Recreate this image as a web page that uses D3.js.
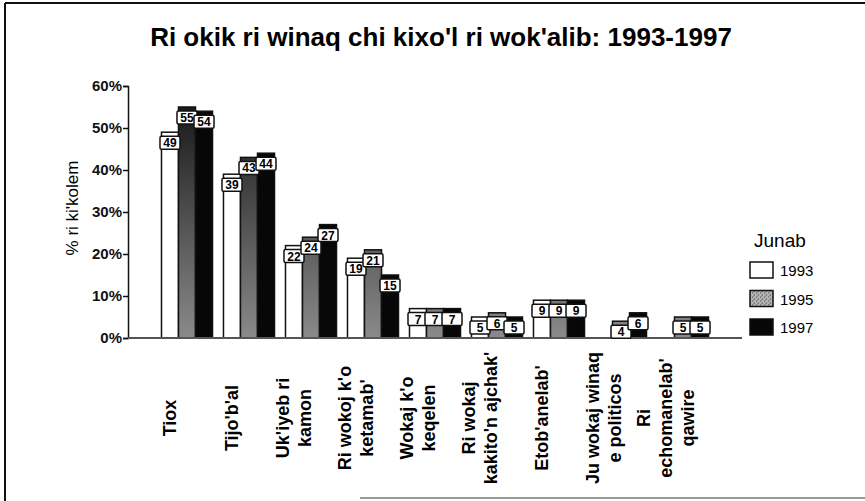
<!DOCTYPE html>
<html>
<head>
<meta charset="utf-8">
<script src="https://cdn.jsdelivr.net/npm/d3@7"></script>
<style>
  body { margin: 0; background: #fff; }
  svg { display: block; font-family: "Liberation Sans", Arial, sans-serif; }
</style>
</head>
<body>
<script>
// ---- data ----
const categories = [
  "Tiox", "Tijo'b'al", "Uk'iyeb ri|kamon", "Ri wokoj k'o|ketamab'",
  "Wokaj k'o|keqelen", "Ri wokaj|kakito'n ajchak'", "Etob'anelab'",
  "Ju wokaj winaq|e politicos", "Ri|echomanelab'|qawire"
];
const years = ["1993", "1995", "1997"];
const v1993 = [49, 39, 22, 19, 7, 5, 9, null, null];
const v1995 = [55, 43, 24, 21, 7, 6, 9, 4, 5];
const v1997 = [54, 44, 27, 15, 7, 5, 9, 6, 5];
const yTicks = [0, 10, 20, 30, 40, 50, 60];

const W = 865, H = 501;
const svg = d3.select("body").append("svg")
  .attr("width", W)
  .attr("height", H);

const defs = svg.append("defs");
// 1995 bars look dark at top and speckled grey near the axis
const grad = defs.append("linearGradient")
  .attr("id", "g1995")
  .attr("gradientUnits", "userSpaceOnUse")
  .attr("x1", 0).attr("y1", 100).attr("x2", 0).attr("y2", 338);
grad.append("stop").attr("offset", 0).attr("stop-color", "#161616");
grad.append("stop").attr("offset", 1).attr("stop-color", "#8a8a8a");

const pat = defs.append("pattern")
  .attr("id", "stip")
  .attr("width", 4).attr("height", 4)
  .attr("patternUnits", "userSpaceOnUse");
pat.append("rect").attr("width", 4).attr("height", 4).attr("fill", "#b4b4b4");
pat.append("rect").attr("x", 0).attr("y", 0).attr("width", 1).attr("height", 1).attr("fill", "#444");
pat.append("rect").attr("x", 2).attr("y", 2).attr("width", 1).attr("height", 1).attr("fill", "#555");
pat.append("rect").attr("x", 3).attr("y", 1).attr("width", 1).attr("height", 1).attr("fill", "#777");

const fills = { "1993": "#fff", "1995": "url(#g1995)", "1997": "#070707" };

// frame of the scanned page
svg.append("line").attr("x1", 5).attr("y1", 3).attr("x2", W).attr("y2", 3)
  .attr("stroke", "#111").attr("stroke-width", 2);
svg.append("line").attr("x1", 5).attr("y1", 3).attr("x2", 5).attr("y2", H)
  .attr("stroke", "#111").attr("stroke-width", 2);
svg.append("line").attr("x1", 360).attr("y1", 498).attr("x2", W).attr("y2", 498)
  .attr("stroke", "#999").attr("stroke-width", 2);

// title
svg.append("text")
  .attr("x", 441).attr("y", 46)
  .attr("text-anchor", "middle")
  .attr("font-size", 26)
  .attr("font-weight", "bold")
  .text("Ri okik ri winaq chi kixo'l ri wok'alib: 1993-1997");

// ---- scales ----
const x0 = d3.scaleBand()
  .domain(categories)
  .range([128, 742])
  .paddingInner(0.177)
  .paddingOuter(0.54);

const x1 = d3.scaleBand()
  .domain(years)
  .range([0, x0.bandwidth()]);

const y = d3.scaleLinear()
  .domain([0, 60])
  .range([338, 86]);

// y axis
const yAxis = svg.append("g")
  .attr("transform", "translate(128,0)")
  .call(d3.axisLeft(y).tickValues(yTicks).tickSize(5).tickFormat(d => d + "%"));
yAxis.select(".domain").attr("stroke", "#111").attr("stroke-width", 1.5);
yAxis.selectAll(".tick line").attr("stroke", "#111").attr("stroke-width", 1.5);
yAxis.selectAll(".tick text")
  .attr("font-size", 15)
  .attr("font-weight", "bold")
  .attr("font-family", "Liberation Sans, Arial, sans-serif")
  .attr("fill", "#111")
  .attr("x", -6);

svg.append("text")
  .attr("transform", "translate(78,208) rotate(-90)")
  .attr("text-anchor", "middle")
  .attr("font-size", 17)
  .text("% ri ki'kolem");

// ---- bars ----
const rows = [];
categories.forEach((c, i) => {
  [v1993, v1995, v1997].forEach((arr, k) => {
    if (arr[i] != null) rows.push({ cat: c, year: years[k], value: arr[i] });
  });
});

const bars = svg.append("g");
bars.selectAll("rect")
  .data(rows)
  .join("rect")
  .attr("x", d => x0(d.cat) + x1(d.year))
  .attr("y", d => y(d.value))
  .attr("width", x1.bandwidth())
  .attr("height", d => y(0) - y(d.value))
  .attr("fill", d => fills[d.year])
  .attr("stroke", "#111")
  .attr("stroke-width", 1.5);

// x axis line
svg.append("line")
  .attr("x1", 128).attr("x2", 742)
  .attr("y1", y(0)).attr("y2", y(0))
  .attr("stroke", "#555").attr("stroke-width", 2);

// value boxes on top of the bars
const lab = svg.append("g").selectAll("g")
  .data(rows)
  .join("g")
  .attr("transform", d => `translate(${x0(d.cat) + x1(d.year) + x1.bandwidth() / 2},${y(d.value) + 4})`);
lab.append("rect")
  .attr("x", -10).attr("y", 0)
  .attr("width", 20).attr("height", 13)
  .attr("rx", 1.5)
  .attr("fill", "#fff")
  .attr("stroke", "#111")
  .attr("stroke-width", 1.5);
lab.append("text")
  .attr("y", 11)
  .attr("text-anchor", "middle")
  .attr("font-size", 12)
  .attr("font-weight", "bold")
  .text(d => d.value);

// category labels, rotated, centred around y=418
const lineH = 22;
const cl = svg.append("g").selectAll("text")
  .data(categories)
  .join("text")
  .attr("font-size", 18)
  .attr("font-weight", "bold")
  .attr("text-anchor", "middle")
  .attr("transform", d => `translate(${x0(d) + x0.bandwidth() / 2 - 17},418) rotate(-90)`);
cl.each(function(d) {
  const parts = d.split("|");
  parts.forEach((p, i) => {
    d3.select(this).append("tspan")
      .attr("x", 0)
      .attr("y", (i - (parts.length - 1) / 2) * lineH)
      .attr("dy", "0.35em")
      .text(p);
  });
});

// ---- legend ----
svg.append("text")
  .attr("x", 754).attr("y", 247)
  .attr("font-size", 19)
  .text("Junab");

const legFill = { "1993": "#fff", "1995": "url(#stip)", "1997": "#070707" };
const leg = svg.append("g").selectAll("g")
  .data(years)
  .join("g")
  .attr("transform", (d, i) => `translate(750,${262 + i * 28.5})`);
leg.append("rect")
  .attr("width", 23).attr("height", 16)
  .attr("fill", d => legFill[d])
  .attr("stroke", "#111")
  .attr("stroke-width", 1.5);
leg.append("text")
  .attr("x", 30).attr("y", 14)
  .attr("font-size", 15)
  .text(d => d);
</script>
</body>
</html>
